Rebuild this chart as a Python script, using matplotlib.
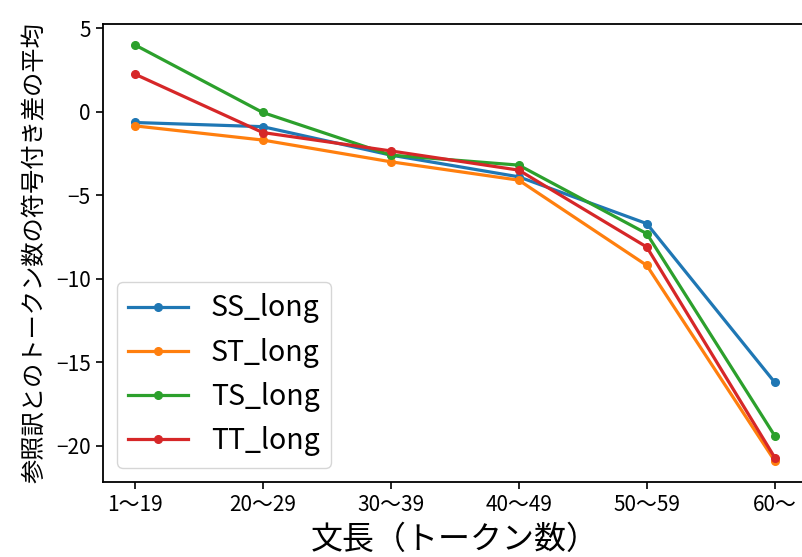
import matplotlib
matplotlib.use("Agg")
import matplotlib.pyplot as plt

plt.rcParams['font.family'] = ['Noto Sans CJK JP', 'DejaVu Sans']

categories = ["1～19", "20～29", "30～39", "40～49", "50～59", "60～"]
ss_long = [-0.65, -0.9, -2.6, -3.9, -6.7, -16.2]
st_long = [-0.85, -1.7, -3.0, -4.1, -9.2, -20.9]
ts_long = [4.0, -0.05, -2.6, -3.2, -7.3, -19.4]
tt_long = [2.25, -1.25, -2.35, -3.5, -8.1, -20.7]

series = [("SS_long", ss_long), ("ST_long", st_long), ("TS_long", ts_long), ("TT_long", tt_long)]

fig, ax = plt.subplots(figsize=(8.02, 5.57), dpi=100)
x = list(range(len(categories)))
for name, vals in series:
    ax.plot(x, vals, marker='o', markersize=5.5, linewidth=2.3, label=name)

ax.set_xticks(x)
ax.set_xticklabels(categories)
ax.tick_params(labelsize=15, length=5, width=1.2)
for s in ax.spines.values():
    s.set_linewidth(1.3)
ax.set_xlabel("文長（トークン数）", fontsize=23, labelpad=6)
ax.set_ylabel("参照訳とのトークン数の符号付き差の平均", fontsize=17.5, labelpad=6)
ax.legend(fontsize=20.5, loc='lower left', handlelength=2.1)
fig.subplots_adjust(left=0.128, right=1.006, top=0.957, bottom=0.135)
fig.savefig("out.png", dpi=100)
